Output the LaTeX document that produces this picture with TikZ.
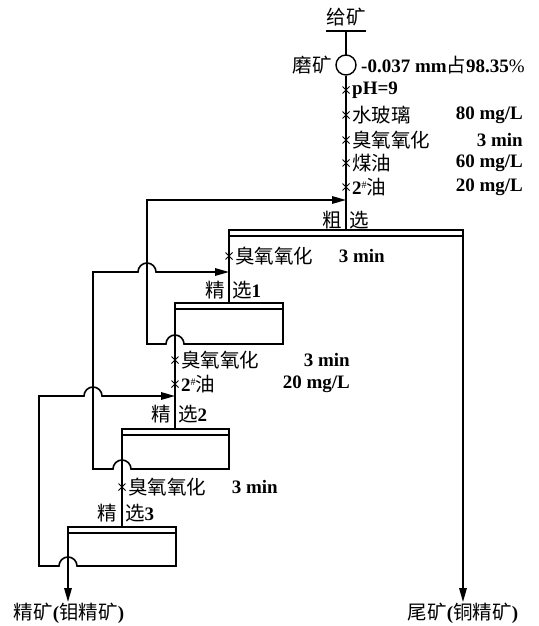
\documentclass[tikz,border=0pt]{standalone}
\usepackage{fontspec}
\setmainfont{Liberation Serif}
\newfontfamily\cjk{Noto Sans CJK SC}
\usetikzlibrary{arrows.meta}
\newcommand\zh[1]{{\cjk\mdseries\fontsize{19.5}{21}\selectfont #1}}
\newcommand\shp{\raisebox{6pt}{\fontsize{10}{10}\selectfont\mdseries\#}}
\newcommand\xmk[2]{\draw[line width=1pt] (#1-3.5,#2-3.5) -- (#1+3.5,#2+3.5) (#1-3.5,#2+3.5) -- (#1+3.5,#2-3.5);}
\begin{document}
\begin{tikzpicture}[x=1pt,y=-1pt,
  line/.style={line width=1.6pt, line join=miter},
  arr/.style={line, -{Triangle[length=14pt,width=7.5pt]}},
  lab/.style={inner sep=0pt, font=\fontsize{19}{21}\selectfont\bfseries}]
\useasboundingbox (0,0) rectangle (538,626);
% feed
\node[lab] (feed) at (346,17) {\zh{给矿}};
\draw[line] (326,31) -- (366,31);
\draw[line] (346,31) -- (346,55);
\node[draw, circle, line width=1.4pt, minimum size=20pt, inner sep=0pt] (mill) at (346,65) {};
\node[lab, anchor=east] (millt) at (332,65) {\zh{磨矿}};
\node[lab, anchor=west] (grind) at (361,65) {-0.037 mm\zh{占}98.35\textmd{\%}};
\draw[line] (mill.south) -- (346,230);
% reagents rougher
\xmk{346}{90}\xmk{346}{115}\xmk{346}{140}\xmk{346}{163}\xmk{346}{187}
\node[lab, anchor=west] (r1) at (352,90) {pH=9};
\node[lab, anchor=west] (r2) at (352,115) {\zh{水玻璃}};
\node[lab, anchor=west] (r3) at (352,140) {\zh{臭氧氧化}};
\node[lab, anchor=west] (r4) at (352,163) {\zh{煤油}};
\node[lab, anchor=west] (r5) at (352,187) {2\shp\zh{油}};
\node[lab, anchor=east] (v2) at (523,115) {80 mg/L};
\node[lab, anchor=east] (v3) at (523,140) {3 min};
\node[lab, anchor=east] (v4) at (523,163) {60 mg/L};
\node[lab, anchor=east] (v5) at (523,187) {20 mg/L};
% rougher
\node[lab, anchor=east] (c0a) at (342,220) {\zh{粗}};
\node[lab, anchor=west] (c0b) at (349,220) {\zh{选}};
\draw[line] (229,230) rectangle (463,236);
\draw[arr] (463,236) -- (463,602);
\node[lab] (tail) at (463,613) {\zh{尾矿}(\zh{铜精矿})};
\draw[line] (229,236) -- (229,303);
\xmk{229}{256}
\node[lab, anchor=west] (c1r) at (235,256) {\zh{臭氧氧化}};
\node[lab, anchor=east] (c1v) at (385,256) {3 min};
% cleaner 1
\node[lab, anchor=east] (c1a) at (225,290) {\zh{精}};
\node[lab, anchor=west] (c1b) at (232,290) {\zh{选}1};
\draw[line] (175,303) rectangle (283,309);
\draw[arr] (283,309) -- (283,344) -- (184,344) arc (0:-180:9) -- (147,344) -- (147,200) -- (346,200);
\draw[line] (175,309) -- (175,429);
\xmk{175}{360}\xmk{175}{384}
\node[lab, anchor=west] (c2r1) at (181,360) {\zh{臭氧氧化}};
\node[lab, anchor=west] (c2r2) at (181,384) {2\shp\zh{油}};
\node[lab, anchor=east] (c2v1) at (350,360) {3 min};
\node[lab, anchor=east] (c2v2) at (350,384) {20 mg/L};
% cleaner 2
\node[lab, anchor=east] (c2a) at (171,414) {\zh{精}};
\node[lab, anchor=west] (c2b) at (178,414) {\zh{选}2};
\draw[line] (122,429) rectangle (229,435);
\draw[arr] (229,435) -- (229,469) -- (131,469) arc (0:-180:9) -- (93,469) -- (93,272) -- (138,272) arc (180:360:9) -- (229,272);
\draw[line] (122,435) -- (122,527);
\xmk{122}{487}
\node[lab, anchor=west] (c3r) at (128,487) {\zh{臭氧氧化}};
\node[lab, anchor=east] (c3v) at (278,487) {3 min};
% cleaner 3
\node[lab, anchor=east] (c3a) at (117,513) {\zh{精}};
\node[lab, anchor=west] (c3b) at (125,513) {\zh{选}3};
\draw[line] (68,527) rectangle (176,533);
\draw[arr] (176,533) -- (176,566) -- (77,566) arc (0:-180:9) -- (39,566) -- (39,396) -- (84,396) arc (180:360:9) -- (175,396);
\draw[arr] (68,533) -- (68,602);
\node[lab] (conc) at (69,613) {\zh{精矿}(\zh{钼精矿})};
\end{tikzpicture}
\end{document}
